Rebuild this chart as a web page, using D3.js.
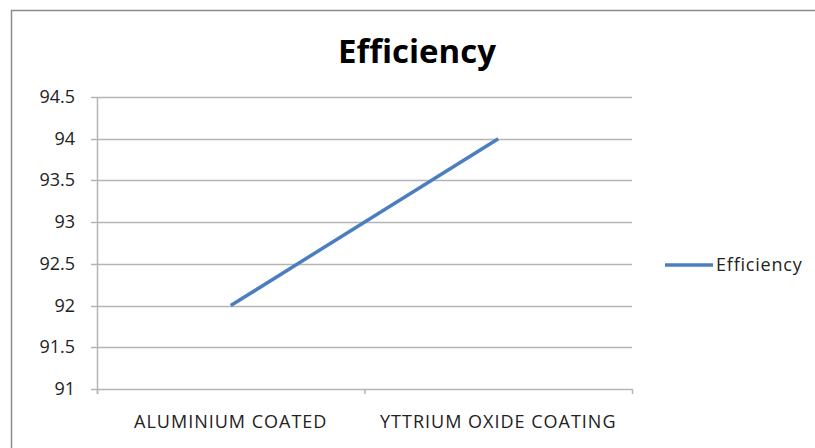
<!DOCTYPE html>
<html>
<head>
<meta charset="utf-8">
<script src="https://cdn.jsdelivr.net/npm/d3@7"></script>
<style>
  body { margin: 0; background: #fff; }
  svg text { font-family: "Open Sans", "Noto Sans", sans-serif; fill: #222; }
</style>
</head>
<body>
<div id="chart"></div>
<script>
var categories = ["ALUMINIUM COATED", "YTTRIUM OXIDE COATING"];
var efficiency = [92, 94];
var yTicks = [91, 91.5, 92, 92.5, 93, 93.5, 94, 94.5];
var seriesName = "Efficiency";

var width = 815,
    height = 448;

var svg = d3.select("#chart")
    .append("svg")
    .attr("width", width)
    .attr("height", height);

// chart border
svg.append("rect")
    .attr("x", 11.5)
    .attr("y", 10.5)
    .attr("width", 830)
    .attr("height", 460)
    .attr("fill", "none")
    .attr("stroke", "#8c8c8c")
    .attr("stroke-width", 1.5);

var plot = { left: 97, right: 632, top: 97, bottom: 389 };

var x = d3.scaleBand()
    .domain(categories)
    .range([plot.left, plot.right])
    .padding(0);

var y = d3.scaleLinear()
    .domain([91, 94.5])
    .range([plot.bottom, plot.top]);

// gridlines
svg.append("g")
    .selectAll("line")
    .data(yTicks)
    .enter()
    .append("line")
    .attr("x1", plot.left - 6)
    .attr("x2", plot.right)
    .attr("y1", function(d) { return Math.round(y(d)) + 0.5; })
    .attr("y2", function(d) { return Math.round(y(d)) + 0.5; })
    .attr("stroke", "#b5b5b5")
    .attr("stroke-width", 1.5);

// y axis line
svg.append("line")
    .attr("x1", plot.left + 0.5)
    .attr("x2", plot.left + 0.5)
    .attr("y1", plot.top)
    .attr("y2", plot.bottom + 5)
    .attr("stroke", "#b5b5b5")
    .attr("stroke-width", 1.5);

// y tick labels
svg.append("g")
    .selectAll("text")
    .data(yTicks)
    .enter()
    .append("text")
    .attr("x", 75)
    .attr("y", function(d) { return y(d) + 6; })
    .attr("text-anchor", "end")
    .attr("font-size", "18px")
    .text(function(d) { return d; });

// x axis category ticks
var xEdges = categories.map(function(c) { return x(c); }).concat([plot.right]);
svg.append("g")
    .selectAll("line")
    .data(xEdges)
    .enter()
    .append("line")
    .attr("x1", function(d) { return d + 0.5; })
    .attr("x2", function(d) { return d + 0.5; })
    .attr("y1", plot.bottom)
    .attr("y2", plot.bottom + 5)
    .attr("stroke", "#b5b5b5")
    .attr("stroke-width", 1.5);

// category labels
svg.append("g")
    .selectAll("text")
    .data(categories)
    .enter()
    .append("text")
    .attr("x", function(d) { return x(d) + x.bandwidth() / 2; })
    .attr("y", 428)
    .attr("text-anchor", "middle")
    .attr("font-size", "18px")
    .attr("letter-spacing", "1px")
    .text(function(d) { return d; });

// series line
var line = d3.line()
    .x(function(d, i) { return x(categories[i]) + x.bandwidth() / 2; })
    .y(function(d) { return y(d); });

svg.append("path")
    .datum(efficiency)
    .attr("d", line)
    .attr("fill", "none")
    .attr("stroke", "#4a7ebf")
    .attr("stroke-width", 3.5);

// title
svg.append("text")
    .attr("x", 417)
    .attr("y", 63)
    .attr("text-anchor", "middle")
    .attr("font-size", "33px")
    .attr("font-weight", "bold")
    .style("fill", "#000")
    .text(seriesName);

// legend
svg.append("line")
    .attr("x1", 665)
    .attr("x2", 713)
    .attr("y1", 265)
    .attr("y2", 265)
    .attr("stroke", "#4a7ebf")
    .attr("stroke-width", 3.5);

svg.append("text")
    .attr("x", 716)
    .attr("y", 271)
    .attr("font-size", "18px")
    .attr("letter-spacing", "0.8px")
    .text(seriesName);
</script>
</body>
</html>
